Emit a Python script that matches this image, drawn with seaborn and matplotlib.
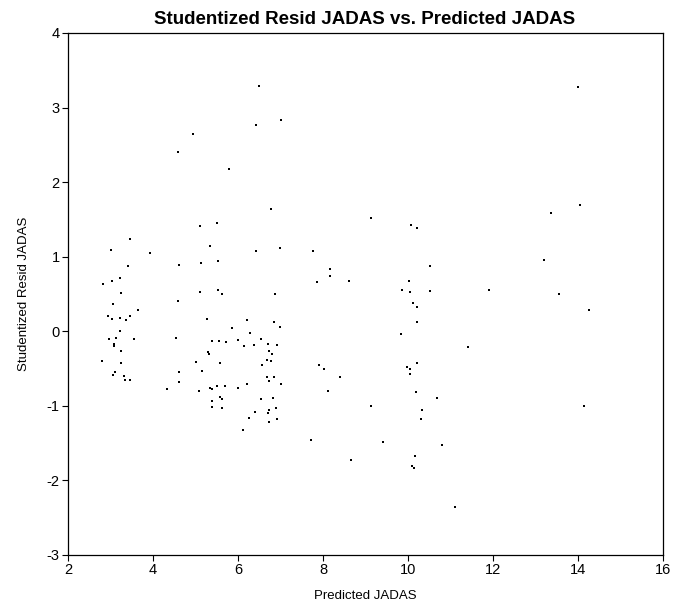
import matplotlib
matplotlib.use("Agg")
import matplotlib.pyplot as plt
import seaborn as sns
import pandas as pd

predicted = [6.49, 6.43, 4.95, 4.60, 5.79, 5.51, 5.11, 7.01, 6.77, 9.14, 10.08, 10.21,
             14.00, 14.05, 13.36,
             3.45, 3.02, 3.94, 5.35, 6.42, 3.40, 4.61, 5.14, 5.54, 3.23, 3.04, 2.82, 3.25,
             5.11, 5.54, 5.63, 4.60, 3.07, 3.64, 2.93, 3.04, 3.23, 3.45, 3.36, 5.27, 6.20,
             5.87, 3.23, 6.28, 2.96, 3.13, 3.56, 4.54, 6.01, 5.38, 5.55, 5.71, 6.38, 6.14,
             3.09, 3.09, 3.25, 5.29, 5.32, 2.80, 3.25, 5.02, 5.58,
             6.98, 7.77, 8.17, 8.17, 7.85, 8.61, 10.03, 9.87, 10.05, 10.11, 10.22, 6.88,
             6.85, 6.98, 10.22, 9.84, 6.55, 6.71, 6.92, 6.74, 6.79, 6.69, 6.77, 6.57, 7.91,
             8.02, 10.22, 9.97, 10.05,
             13.21, 10.52, 13.56, 14.27, 11.91, 10.52, 11.42,
             3.10, 3.07, 3.31, 3.35, 3.45, 5.16, 4.61, 4.61, 4.32, 5.08, 5.34, 5.38, 5.51,
             5.70, 6.01, 6.20, 5.58, 5.63, 5.38, 5.38, 5.63, 6.41, 6.25, 6.12,
             6.69, 6.85, 8.40, 6.74, 7.01, 8.12, 6.55, 6.82, 6.74, 6.90, 6.71, 6.92, 6.74,
             7.72, 8.67, 9.14, 9.40, 10.05, 10.19, 10.16, 10.09, 10.13,
             10.68, 14.13, 10.32, 10.31, 10.79, 11.11]
stud_resid = [3.29, 2.76, 2.65, 2.41, 2.18, 1.45, 1.41, 2.84, 1.64, 1.52, 1.43, 1.38,
              3.27, 1.70, 1.59,
              1.24, 1.09, 1.05, 1.14, 1.07, 0.875, 0.89, 0.91, 0.94, 0.71, 0.67, 0.63, 0.51,
              0.53, 0.55, 0.50, 0.40, 0.36, 0.28, 0.20, 0.165, 0.18, 0.20, 0.15, 0.165, 0.15,
              0.05, 0.00, -0.02, -0.10, -0.085, -0.10, -0.085, -0.12, -0.13, -0.13, -0.15, -0.18, -0.20,
              -0.165, -0.20, -0.27, -0.28, -0.31, -0.40, -0.43, -0.41, -0.43,
              1.12, 1.07, 0.84, 0.74, 0.66, 0.67, 0.67, 0.56, 0.53, 0.38, 0.33, 0.50,
              0.13, 0.06, 0.13, -0.04, -0.10, -0.165, -0.18, -0.27, -0.31, -0.38, -0.40, -0.45, -0.45,
              -0.51, -0.43, -0.48, -0.51,
              0.96, 0.875, 0.50, 0.29, 0.56, 0.545, -0.21,
              -0.545, -0.58, -0.60, -0.65, -0.65, -0.53, -0.545, -0.68, -0.78, -0.795, -0.76, -0.78, -0.74,
              -0.73, -0.76, -0.71, -0.875, -0.91, -0.94, -1.01, -1.03, -1.08, -1.16, -1.32,
              -0.61, -0.61, -0.61, -0.66, -0.71, -0.795, -0.91, -0.89, -1.05, -1.03, -1.09, -1.18, -1.21,
              -1.46, -1.72, -1.00, -1.49, -0.57, -0.81, -1.67, -1.81, -1.84,
              -0.89, -1.00, -1.06, -1.18, -1.52, -2.36]

x_ticks = [2, 4, 6, 8, 10, 12, 14, 16]
y_ticks = [-3, -2, -1, 0, 1, 2, 3, 4]

df = pd.DataFrame({"Predicted JADAS": predicted, "Studentized Resid JADAS": stud_resid})

sns.set_style("white")
plt.rcParams["font.family"] = ["Liberation Sans", "DejaVu Sans"]
plt.rcParams["axes.unicode_minus"] = False
plt.rcParams["text.color"] = "black"
plt.rcParams["axes.labelcolor"] = "black"

fig = plt.figure(figsize=(6.76, 6.08), dpi=100)
ax = fig.add_axes([68 / 676, 1 - 555 / 608, (663 - 68) / 676, (555 - 33) / 608])

sns.scatterplot(data=df, x="Predicted JADAS", y="Studentized Resid JADAS", ax=ax,
                marker="s", s=4, color="black", linewidth=0, legend=False)

ax.set_xlim(2, 16)
ax.set_ylim(-3, 4)
ax.set_xticks(x_ticks)
ax.set_yticks(y_ticks)
ax.tick_params(axis="both", direction="out", length=4, width=0.8, colors="black",
               labelsize=10.5, bottom=True, left=True, top=False, right=False, pad=2)
for s in ax.spines.values():
    s.set_color("black")
    s.set_linewidth(0.9)

ax.set_xlabel("Predicted JADAS", fontsize=9.5, labelpad=9)
ax.set_ylabel("Studentized Resid JADAS", fontsize=9.5, labelpad=12)
fig.text(0.54, 1 - 20 / 608, "Studentized Resid JADAS vs. Predicted JADAS",
         ha="center", va="center", fontsize=13.5, fontweight="bold", color="black")

fig.savefig("out.png", dpi=100, facecolor="white")
